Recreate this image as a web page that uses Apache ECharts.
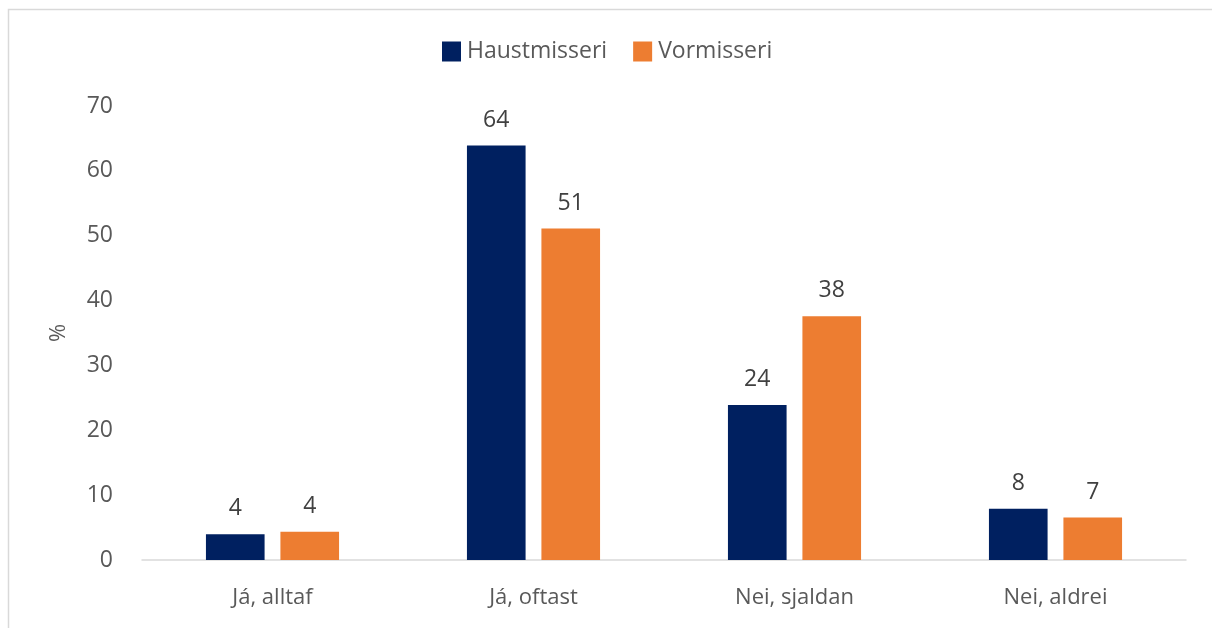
<!DOCTYPE html>
<html>
<head>
<meta charset="utf-8">
<script src="https://cdn.jsdelivr.net/npm/echarts@6/dist/echarts.min.js"></script>
<style>
  html, body { margin: 0; padding: 0; background: #fff; }
  #chart { width: 1212px; height: 628px; }
</style>
</head>
<body>
<div id="chart"></div>
<script>
const categories = ["Já, alltaf", "Já, oftast", "Nei, sjaldan", "Nei, aldrei"];
const haustmisseri = [3.96, 63.9, 23.9, 7.9];
const vormisseri = [4.36, 51.1, 37.6, 6.55];
const seriesNames = ["Haustmisseri", "Vormisseri"];
const colors = ["#002060", "#ED7D31"];

const chart = echarts.init(document.getElementById("chart"));

const font = "'Open Sans', 'Noto Sans', sans-serif";

const labelOpt = {
  show: true,
  position: "top",
  distance: 14,
  color: "#404040",
  fontSize: 23,
  fontFamily: font,
  formatter: (p) => Math.round(p.value),
};

const option = {
  animation: false,
  color: colors,
  graphic: [
    {
      type: "rect",
      left: 6,
      top: 7,
      shape: { width: 1220, height: 640 },
      style: { fill: "none", stroke: "#d9d9d9", lineWidth: 1.5 },
      silent: true,
    },
  ],
  legend: {
    top: 35,
    left: 437,
    itemWidth: 19,
    itemHeight: 20,
    itemGap: 26,
    icon: "rect",
    textStyle: { color: "#595959", fontSize: 23, fontFamily: font, padding: [0, 0, 0, 1] },
    data: seriesNames,
  },
  grid: {
    left: 142,
    right: 26,
    top: 106,
    bottom: 68,
  },
  xAxis: {
    type: "category",
    data: categories,
    axisLine: { lineStyle: { color: "#d9d9d9", width: 1.5 } },
    axisTick: { show: false },
    axisLabel: {
      color: "#595959",
      fontSize: 22,
      fontFamily: font,
      margin: 27,
    },
  },
  yAxis: {
    type: "value",
    min: 0,
    max: 70,
    interval: 10,
    name: "%",
    nameLocation: "middle",
    nameGap: 72,
    nameRotate: 90,
    nameTextStyle: { color: "#595959", fontSize: 22, fontFamily: font },
    axisLine: { show: false },
    axisTick: { show: false },
    splitLine: { show: false },
    axisLabel: {
      color: "#595959",
      fontSize: 23,
      fontFamily: font,
      margin: 29,
    },
  },
  series: [
    {
      name: seriesNames[0],
      type: "bar",
      data: haustmisseri,
      barGap: "27%",
      barCategoryGap: "49%",
      label: labelOpt,
    },
    {
      name: seriesNames[1],
      type: "bar",
      data: vormisseri,
      label: labelOpt,
    },
  ],
};

chart.setOption(option);
</script>
</body>
</html>
